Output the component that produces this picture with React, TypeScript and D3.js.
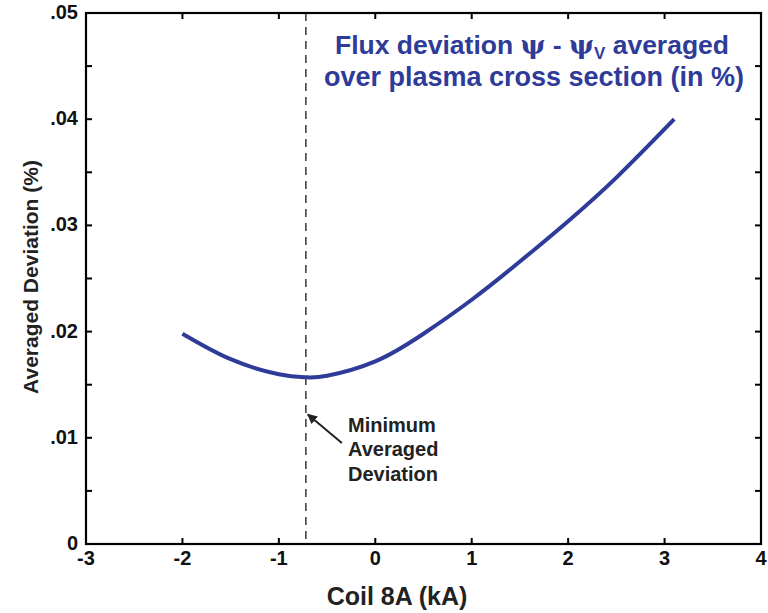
import React from "react";
import * as d3 from "d3";

// Coil 8A current (kA) and the averaged flux deviation (%)
const coilCurrent = [-2, -1.5, -1, -0.72, -0.5, 0, 0.5, 1, 1.5, 2, 2.5, 3.1];
const avgDeviation = [0.0198, 0.0174, 0.01598, 0.0157, 0.01585, 0.0172, 0.0198, 0.023, 0.0266, 0.0304, 0.0345, 0.04];

const xTicks = [-3, -2, -1, 0, 1, 2, 3, 4];
const xTickLabels = ["-3", "-2", "-1", "0", "1", "2", "3", "4"];
const yTicks = [0, 0.01, 0.02, 0.03, 0.04, 0.05];
const yTickLabels = ["0", ".01", ".02", ".03", ".04", ".05"];
const yMinorTicks = [0.005, 0.015, 0.025, 0.035, 0.045];

const minimumAt = -0.72;

const W = 768;
const H = 613;
const margin = { left: 86, right: 7, top: 13, bottom: 69 };
const FONT = "'Liberation Sans', Arial, Helvetica, sans-serif";
const BLUE = "#2f3b98";

export default function App() {
  const x = d3.scaleLinear().domain([-3, 4]).range([margin.left, W - margin.right]);
  const y = d3.scaleLinear().domain([0, 0.05]).range([H - margin.bottom, margin.top]);

  const line = d3
    .line<number>()
    .x((_, i) => x(coilCurrent[i]))
    .y((d) => y(d))
    .curve(d3.curveNatural);

  const x0 = margin.left;
  const x1 = W - margin.right;
  const y0 = H - margin.bottom;
  const y1 = margin.top;
  const tickLen = 6;

  const arrowTip = { x: x(minimumAt) + 2, y: y(0.0122) };
  const arrowTail = { x: x(minimumAt) + 36, y: y(0.0095) };

  return (
    <svg
      width={W}
      height={H}
      style={{ position: "absolute", left: 0, top: 0, background: "#fff" }}
      fontFamily={FONT}
    >
      <defs>
        <marker id="arrowHead" viewBox="0 0 10 10" refX="9" refY="5" markerWidth="5" markerHeight="5" orient="auto">
          <path d="M0,0 L10,5 L0,10 z" fill="#222" />
        </marker>
      </defs>

      {/* minimum marker */}
      <line
        x1={x(minimumAt)}
        x2={x(minimumAt)}
        y1={y1}
        y2={y0}
        stroke="#444"
        strokeWidth={1.6}
        strokeDasharray="8,6"
      />

      {/* curve */}
      <path d={line(avgDeviation) || ""} fill="none" stroke={BLUE} strokeWidth={4} strokeLinecap="butt" />

      {/* frame */}
      <rect x={x0} y={y1} width={x1 - x0} height={y0 - y1} fill="none" stroke="#000" strokeWidth={2.2} />

      {/* x ticks (bottom and top, inward) */}
      {xTicks.map((t, i) => (
        <g key={"xt" + i}>
          <line x1={x(t)} x2={x(t)} y1={y0} y2={y0 - tickLen} stroke="#000" strokeWidth={2} />
          <line x1={x(t)} x2={x(t)} y1={y1} y2={y1 + tickLen} stroke="#000" strokeWidth={2} />
          <text
            x={x(t)}
            y={y0 + 21}
            textAnchor="middle"
            fontSize={20}
            fontWeight="bold"
            fill="#111"
          >
            {xTickLabels[i]}
          </text>
        </g>
      ))}

      {/* y ticks (left and right, inward) */}
      {yTicks.map((t, i) => (
        <g key={"yt" + i}>
          <line x1={x0} x2={x0 + tickLen} y1={y(t)} y2={y(t)} stroke="#000" strokeWidth={2} />
          <line x1={x1} x2={x1 - tickLen} y1={y(t)} y2={y(t)} stroke="#000" strokeWidth={2} />
          <text
            x={x0 - 8}
            y={y(t) + 6}
            textAnchor="end"
            fontSize={20}
            fontWeight="bold"
            fill="#111"
          >
            {yTickLabels[i]}
          </text>
        </g>
      ))}
      {yMinorTicks.map((t, i) => (
        <g key={"ym" + i}>
          <line x1={x0} x2={x0 + tickLen} y1={y(t)} y2={y(t)} stroke="#000" strokeWidth={2} />
          <line x1={x1} x2={x1 - tickLen} y1={y(t)} y2={y(t)} stroke="#000" strokeWidth={2} />
        </g>
      ))}

      {/* axis titles */}
      <text x={397} y={605} textAnchor="middle" fontSize={25} fontWeight="bold" fill="#222">
        Coil 8A (kA)
      </text>
      <text
        transform={`translate(38, 277) rotate(-90)`}
        textAnchor="middle"
        fontSize={21}
        fontWeight="bold"
        fill="#222"
      >
        Averaged Deviation (%)
      </text>

      {/* title annotation */}
      <text x={532} y={54} textAnchor="middle" fontSize={26.5} fontWeight="bold" fill={BLUE}>
        <tspan>Flux deviation  </tspan>
        <tspan fontFamily="'DejaVu Serif', serif">ψ</tspan>
        <tspan> - </tspan>
        <tspan fontFamily="'DejaVu Serif', serif">ψ</tspan>
        <tspan fontSize={17} dy={5}>V</tspan>
        <tspan dy={-5}> averaged</tspan>
      </text>
      <text x={534} y={86} textAnchor="middle" fontSize={27} fontWeight="bold" fill={BLUE}>
        over plasma cross section (in %)
      </text>

      {/* minimum annotation */}
      <line
        x1={arrowTail.x}
        y1={arrowTail.y}
        x2={arrowTip.x}
        y2={arrowTip.y}
        stroke="#222"
        strokeWidth={2}
        markerEnd="url(#arrowHead)"
      />
      <text fontSize={20} fontWeight="bold" fill="#222">
        <tspan x={348} y={432}>Minimum</tspan>
        <tspan x={348} y={456}>Averaged</tspan>
        <tspan x={348} y={481}>Deviation</tspan>
      </text>
    </svg>
  );
}
